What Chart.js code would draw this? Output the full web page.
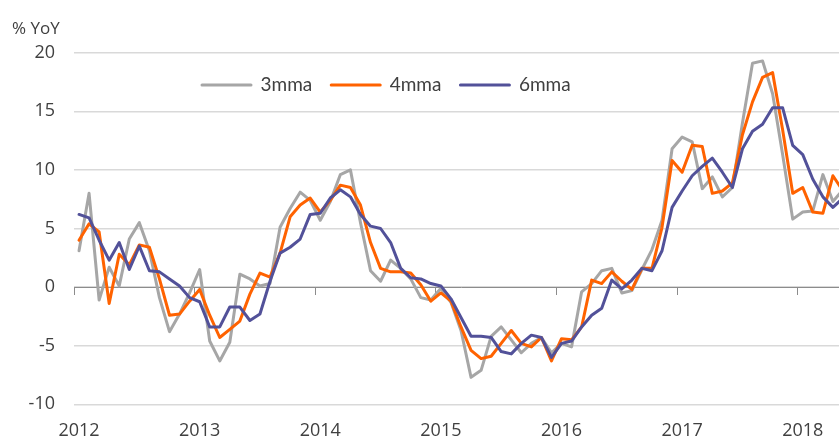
<!DOCTYPE html>
<html><head><meta charset="utf-8">
<script src="https://cdn.jsdelivr.net/npm/chart.js@4.4.1/dist/chart.umd.min.js"></script>
<style>html,body{margin:0;padding:0;overflow:hidden;background:#fff;width:839px;height:436px}canvas{display:block}</style>
</head><body>
<canvas id="c" width="849" height="436"></canvas>
<script>
const categories = [
 '2012-01','2012-02','2012-03','2012-04','2012-05','2012-06','2012-07','2012-08','2012-09','2012-10','2012-11','2012-12',
 '2013-01','2013-02','2013-03','2013-04','2013-05','2013-06','2013-07','2013-08','2013-09','2013-10','2013-11','2013-12',
 '2014-01','2014-02','2014-03','2014-04','2014-05','2014-06','2014-07','2014-08','2014-09','2014-10','2014-11','2014-12',
 '2015-01','2015-02','2015-03','2015-04','2015-05','2015-06','2015-07','2015-08','2015-09','2015-10','2015-11','2015-12',
 '2016-01','2016-02','2016-03','2016-04','2016-05','2016-06','2016-07','2016-08','2016-09','2016-10','2016-11','2016-12',
 '2017-01','2017-02','2017-03','2017-04','2017-05','2017-06','2017-07','2017-08','2017-09','2017-10','2017-11','2017-12',
 '2018-01','2018-02','2018-03','2018-04','2018-05'
];
const mma3 = [3.1, 8.0, -1.1, 1.7, 0.1, 4.1, 5.5, 3.1, -0.9, -3.8, -2.3, -0.5,
 1.5, -4.6, -6.3, -4.7, 1.1, 0.7, 0.1, 0.3, 5.1, 6.7, 8.1, 7.4,
 5.7, 7.3, 9.6, 10.0, 5.5, 1.4, 0.5, 2.3, 1.6, 0.7, -0.9, -1.1,
 -0.1, -1.3, -3.7, -7.7, -7.1, -4.2, -3.4, -4.5, -5.6, -4.8, -4.3, -5.6,
 -4.8, -5.1, -0.4, 0.3, 1.4, 1.6, -0.5, -0.3, 1.5, 3.2, 5.7, 11.8,
 12.8, 12.4, 8.4, 9.4, 7.7, 8.5, 14.0, 19.1, 19.3, 16.5, 11.3, 5.8,
 6.4, 6.5, 9.6, 7.3, 8.3];
const mma4 = [4.0, 5.4, 4.7, -1.4, 2.8, 1.9, 3.6, 3.4, 0.7, -2.4, -2.3, -1.2,
 -0.2, -2.4, -4.3, -3.6, -2.9, -0.6, 1.2, 0.85, 2.9, 6.0, 7.0, 7.6,
 6.4, 7.4, 8.7, 8.5, 7.0, 3.8, 1.6, 1.3, 1.3, 1.2, 0.2, -1.2,
 -0.5, -1.2, -3.4, -5.4, -6.1, -5.9, -4.8, -3.7, -4.8, -5.1, -4.3, -6.3,
 -4.4, -4.5, -3.4, 0.6, 0.3, 1.3, 0.5, -0.2, 1.6, 1.6, 5.1, 10.8,
 9.8, 12.1, 12.0, 8.0, 8.2, 8.9, 13.0, 15.8, 17.9, 18.3, 13.4, 8.0,
 8.5, 6.4, 6.3, 9.5, 8.2];
const mma6 = [6.2, 5.9, 4.0, 2.3, 3.8, 1.5, 3.5, 1.4, 1.3, 0.7, 0.1, -0.9,
 -1.25, -3.4, -3.4, -1.7, -1.7, -2.85, -2.3, 0.5, 2.9, 3.4, 4.1, 6.2,
 6.3, 7.6, 8.3, 7.7, 6.2, 5.2, 5.0, 3.8, 1.6, 0.8, 0.7, 0.3,
 0.1, -1.0, -2.6, -4.2, -4.2, -4.3, -5.5, -5.7, -4.8, -4.1, -4.3, -6.0,
 -4.8, -4.6, -3.4, -2.4, -1.8, 0.6, -0.15, 0.6, 1.6, 1.4, 3.1, 6.8,
 8.2, 9.5, 10.3, 11.0, 9.8, 8.5, 11.8, 13.3, 13.9, 15.3, 15.3, 12.1,
 11.3, 9.2, 7.7, 6.8, 7.6];
const yTicks = [-10, -5, 0, 5, 10, 15, 20];
const seriesNames = ['3mma', '4mma', '6mma'];
const seriesColors = ['#a6a6a6', '#ff6200', '#525199'];

const TXT = '#404040';
const legendPlacer = {
  id: 'legendPlacer',
  afterLayout(chart) {
    const lg = chart.legend, ca = chart.chartArea;
    const pad = 19, fs = 19;
    lg.left = ca.left + 128 - pad;
    lg.right = lg.left + 620;
    lg.top = ca.top + 32.3 - fs / 2 - pad;
    lg.bottom = lg.top + fs + 2 * pad;
    lg.width = lg.right - lg.left;
    lg.height = lg.bottom - lg.top;
  }
};

new Chart(document.getElementById('c'), {
  type: 'line',
  data: {
    labels: categories,
    datasets: [
      {label: seriesNames[0], data: mma3, borderColor: seriesColors[0], backgroundColor: seriesColors[0], order: 3},
      {label: seriesNames[1], data: mma4, borderColor: seriesColors[1], backgroundColor: seriesColors[1], order: 2},
      {label: seriesNames[2], data: mma6, borderColor: seriesColors[2], backgroundColor: seriesColors[2], order: 1}
    ].map(d => Object.assign(d, {borderWidth: 3, pointRadius: 0, tension: 0, borderJoinStyle: 'round', borderCapStyle: 'round'}))
  },
  options: {
    responsive: false,
    devicePixelRatio: 1,
    animation: false,
    events: [],
    layout: {padding: {left: 12, right: 1, top: 0, bottom: 0}},
    plugins: {
      tooltip: {enabled: false},
      title: {display: true, text: '% YoY', align: 'start', color: TXT,
        font: {family: 'Open Sans', size: 17, weight: 'normal', lineHeight: 1.2},
        padding: {top: 19, bottom: 13.3}},
      legend: {
        display: true, position: 'top', align: 'start', maxHeight: 0.001,
        labels: {boxWidth: 49, boxHeight: 0, padding: 19, color: TXT,
          font: {family: 'Lato', size: 19},
          sort: (a, b) => a.datasetIndex - b.datasetIndex}
      }
    },
    scales: {
      x: {
        type: 'category', position: 'bottom', offset: true,
        grid: {display: false}, border: {display: false},
        ticks: {autoSkip: false, maxRotation: 0, minRotation: 0, padding: 5, color: TXT,
          font: {family: 'Open Sans', size: 18, lineHeight: 1.55},
          callback: (v, i) => categories[i].endsWith('-01') ? categories[i].slice(0, 4) : ''},
        afterFit: s => { s.height = 31.7; }
      },
      x2: {
        type: 'category', position: {y: 0}, offset: true,
        grid: {offset: true, drawOnChartArea: false, drawTicks: true, tickLength: 7, lineWidth: 1,
          color: c => (c.index % 12 === 0) ? '#8c8c8c' : 'rgba(0,0,0,0)'},
        border: {display: true, color: '#8c8c8c', width: 1},
        ticks: {display: false, autoSkip: false}
      },
      y: {
        min: -10, max: 20,
        afterBuildTicks: s => { s.ticks = yTicks.map(v => ({value: v})); },
        grid: {color: '#d9d9d9', lineWidth: 1.5, drawTicks: false},
        border: {display: false},
        ticks: {padding: 19, color: TXT, font: {family: 'Open Sans', size: 18}},
        afterFit: s => { s.width = 62; }
      }
    }
  },
  plugins: [legendPlacer]
});
</script>
</body></html>
